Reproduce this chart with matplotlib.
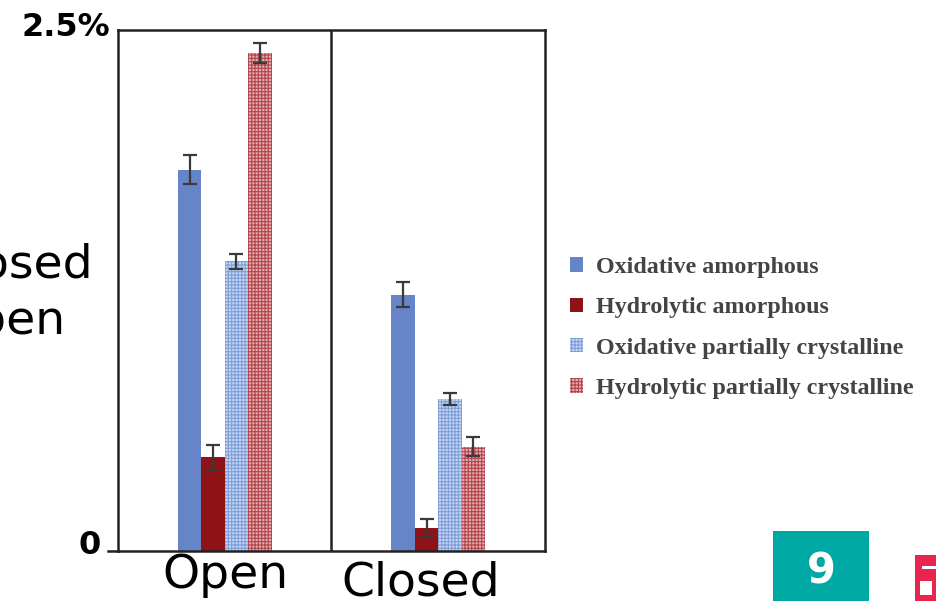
import numpy as np
import matplotlib.pyplot as plt
from matplotlib.patches import Patch, Rectangle

# weight loss (%) after degradation, open vs closed set-up
groups = ['Open', 'Closed']
series = ['Oxidative amorphous', 'Hydrolytic amorphous',
          'Oxidative partially crystalline', 'Hydrolytic partially crystalline']
values = {
    'Oxidative amorphous': [1.83, 1.23],
    'Hydrolytic amorphous': [0.45, 0.11],
    'Oxidative partially crystalline': [1.39, 0.73],
    'Hydrolytic partially crystalline': [2.39, 0.50],
}
errors = {
    'Oxidative amorphous': [0.07, 0.06],
    'Hydrolytic amorphous': [0.06, 0.045],
    'Oxidative partially crystalline': [0.035, 0.03],
    'Hydrolytic partially crystalline': [0.05, 0.045],
}

face = ['#6585c8', '#8e1316', '#c6d6f2', '#e3aeb0']
hatch_col = [None, None, '#7d9ed8', '#b2454c']

plt.rcParams['hatch.linewidth'] = 0.8

fig = plt.figure(figsize=(9.37, 6.01), dpi=100)
ax = fig.add_axes([118 / 937, 50 / 601, 427 / 937, 521 / 601])

x = np.arange(len(groups))
w = 0.11
for i, s in enumerate(series):
    pos = x + (i - 1.5) * w
    kw = dict(color=face[i], linewidth=0)
    if hatch_col[i]:
        kw.update(hatch='+++++', edgecolor=hatch_col[i])
    ax.bar(pos, values[s], w, **kw)
    ax.errorbar(pos, values[s], yerr=errors[s], fmt='none', ecolor='#3a3a3a',
                elinewidth=1.6, capsize=5, capthick=1.6)

ax.set_xlim(-0.5, 1.5)
ax.set_ylim(0, 2.5)
ax.axvline(0.5, color='#222222', lw=1.8)
for sp in ax.spines.values():
    sp.set_linewidth(1.8)
    sp.set_color('#222222')
ax.plot([-0.024, 0], [0, 0], transform=ax.transAxes, color='#222222', lw=1.8, clip_on=False)

ax.set_xticks([])
ax.set_yticks([])
# axis end labels
fig.text(110 / 937, 1 - 27 / 601, '2.5%', ha='right', va='center', fontsize=23,
         fontweight='bold', family='DejaVu Sans')
fig.text(101 / 937, 1 - 545 / 601, '0', ha='right', va='center', fontsize=23,
         fontweight='bold', family='DejaVu Sans')

# category labels under each group
lab = dict(fontsize=34, family='DejaVu Sans', fontweight='normal')
fig.text(225 / 937, 1 - 575 / 601, 'Open', ha='center', va='center', **lab)
fig.text(421 / 937, 1 - 583 / 601, 'Closed', ha='center', va='center', **lab)

# clipped labels on the left edge
fig.text(93 / 937, 1 - 265 / 601, 'Closed', ha='right', va='center', **lab)
fig.text(66 / 937, 1 - 322 / 601, 'Open', ha='right', va='center', **lab)

handles = []
for i, s in enumerate(series):
    if hatch_col[i]:
        handles.append(Patch(facecolor=face[i], edgecolor=hatch_col[i], hatch='+++++', linewidth=0, label=s))
    else:
        handles.append(Patch(facecolor=face[i], linewidth=0, label=s))
leg = fig.legend(handles=handles, loc='center left', bbox_to_anchor=(548 / 937, 1 - 328 / 601),
                 frameon=False, handlelength=0.55, handleheight=0.55, handletextpad=0.55,
                 labelspacing=0.8, prop={'family': 'Liberation Serif', 'weight': 'bold', 'size': 17.3})
for t in leg.get_texts():
    t.set_color('#444444')

# slide number badge and corner icon
fig.patches.append(Rectangle((773 / 937, 0), 96 / 937, 70 / 601, transform=fig.transFigure,
                             facecolor='#00a8a4', edgecolor='none'))
fig.text(821 / 937, 1 - 571 / 601, '9', ha='center', va='center', fontsize=30,
         fontweight='bold', color='white', family='DejaVu Sans')
fig.patches.append(Rectangle((915 / 937, 0), 22 / 937, 46 / 601, transform=fig.transFigure,
                             facecolor='#e8244f', edgecolor='none'))
fig.patches.append(Rectangle((920 / 937, 6 / 601), 12 / 937, 14 / 601, transform=fig.transFigure,
                             facecolor='white', edgecolor='none'))
fig.patches.append(Rectangle((922 / 937, 32 / 601), 15 / 937, 3 / 601, transform=fig.transFigure,
                             facecolor='white', edgecolor='none'))

fig.savefig('out.png', dpi=100)
